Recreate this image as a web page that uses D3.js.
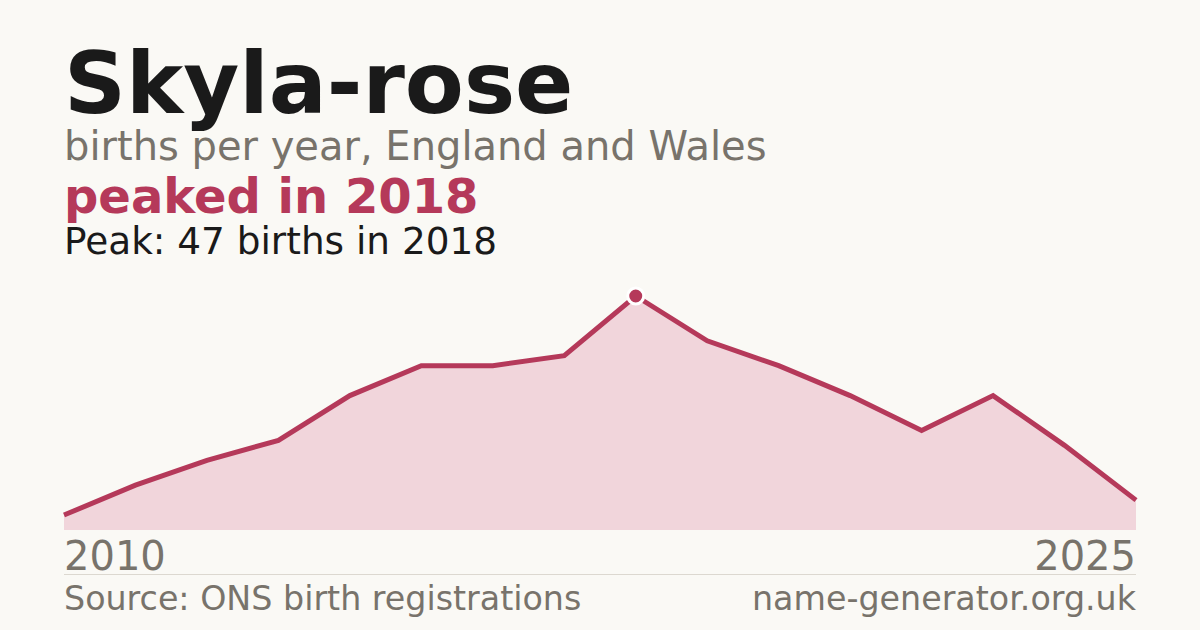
<!DOCTYPE html>
<html>
<head>
<meta charset="utf-8">
<script src="https://cdn.jsdelivr.net/npm/d3@7"></script>
<style>
  html, body { margin: 0; padding: 0; background: #faf9f5; }
  svg { display: block; }
  text { font-family: "DejaVu Sans", sans-serif; }
</style>
</head>
<body>
<svg id="chart" width="1200" height="630"></svg>
<script>
const years = [2010, 2011, 2012, 2013, 2014, 2015, 2016, 2017, 2018, 2019, 2020, 2021, 2022, 2023, 2024, 2025];
const births = [3, 9, 14, 18, 27, 33, 33, 35, 47, 38, 33, 27, 20, 27, 17, 6];
const titleText = "Skyla-rose";
const subtitleText = "births per year, England and Wales";
const headlineText = "peaked in 2018";
const peakText = "Peak: 47 births in 2018";
const sourceText = "Source: ONS birth registrations";
const siteText = "name-generator.org.uk";

const data = years.map((y, i) => ({ year: y, value: births[i] }));

const svg = d3.select("#chart");
const W = 1200, H = 630;
const plotLeft = 64, plotRight = 1136, plotTop = 296, plotBottom = 530;

svg.append("rect").attr("width", W).attr("height", H).attr("fill", "#faf9f5");

const x = d3.scaleLinear().domain(d3.extent(years)).range([plotLeft, plotRight]);
const y = d3.scaleLinear().domain([0, d3.max(births)]).range([plotBottom, plotTop]);

const area = d3.area().x(d => x(d.year)).y0(plotBottom).y1(d => y(d.value));
const line = d3.line().x(d => x(d.year)).y(d => y(d.value));

svg.append("path").datum(data).attr("d", area).attr("fill", "#f1d5db");
svg.append("path").datum(data).attr("d", line)
  .attr("fill", "none").attr("stroke", "#b5395a").attr("stroke-width", 5)
  .attr("stroke-linejoin", "miter");

const peak = data.reduce((a, b) => (b.value > a.value ? b : a));
svg.append("circle").attr("cx", x(peak.year)).attr("cy", y(peak.value)).attr("r", 8)
  .attr("fill", "#b5395a").attr("stroke", "#ffffff").attr("stroke-width", 3);

// titles
svg.append("text").attr("x", 64).attr("y", 113).attr("font-size", 86).attr("font-weight", "bold")
  .attr("fill", "#1a1a1a").text(titleText);
svg.append("text").attr("x", 64).attr("y", 160).attr("font-size", 40)
  .attr("fill", "#78736b").text(subtitleText);
svg.append("text").attr("x", 64).attr("y", 213).attr("font-size", 48).attr("font-weight", "bold")
  .attr("fill", "#b5395a").text(headlineText);
svg.append("text").attr("x", 64).attr("y", 254).attr("font-size", 37.4)
  .attr("fill", "#1a1a1a").text(peakText);

// x axis end labels
const xTicks = [years[0], years[years.length - 1]];
svg.selectAll("text.year").data(xTicks).enter().append("text")
  .attr("class", "year")
  .attr("x", d => x(d))
  .attr("y", 570)
  .attr("text-anchor", (d, i) => (i === 0 ? "start" : "end"))
  .attr("font-size", 40).attr("fill", "#78736b")
  .text(d => d);

svg.append("line").attr("x1", plotLeft).attr("x2", plotRight).attr("y1", 574.5).attr("y2", 574.5)
  .attr("stroke", "#dcd8d0").attr("stroke-width", 1);

svg.append("text").attr("x", 64).attr("y", 610).attr("font-size", 33.3)
  .attr("fill", "#78736b").text(sourceText);
svg.append("text").attr("x", 1136).attr("y", 610).attr("font-size", 33.3).attr("text-anchor", "end")
  .attr("fill", "#78736b").text(siteText);
</script>
</body>
</html>
